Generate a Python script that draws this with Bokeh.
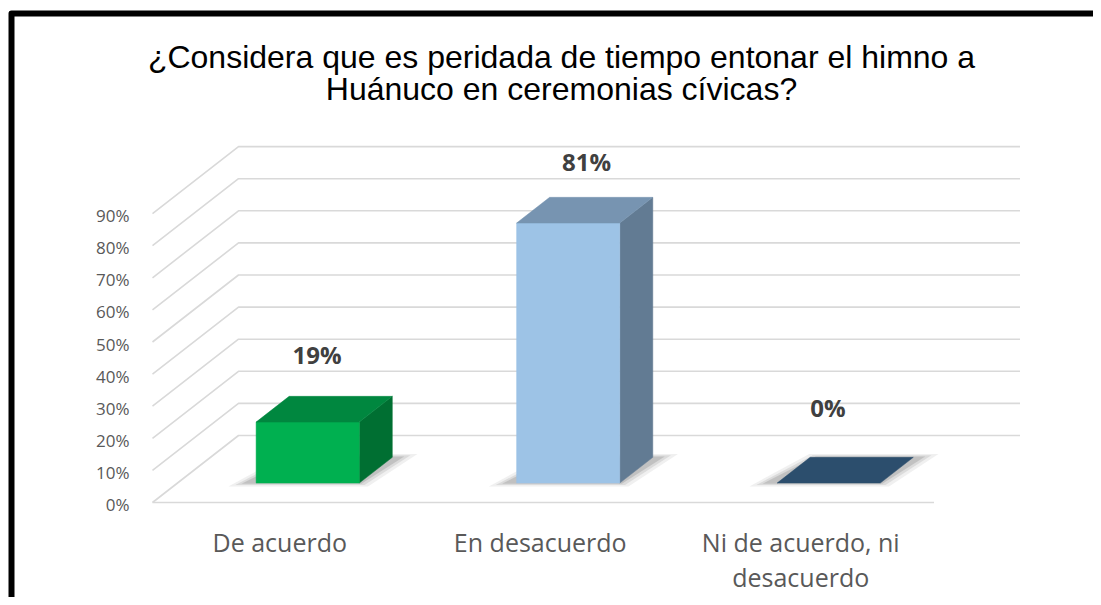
from bokeh.plotting import figure
from bokeh.models import Range1d
from bokeh.core.properties import value
from bokeh.embed import file_html
from bokeh.resources import INLINE

# ---- data ----
title_lines = ["¿Considera que es peridada de tiempo entonar el himno a",
               "Huánuco en ceremonias cívicas?"]
categories = [["De acuerdo"], ["En desacuerdo"], ["Ni de acuerdo, ni", "desacuerdo"]]
values = [19, 81, 0]
value_labels = ["19%", "81%", "0%"]
ticks = [0, 10, 20, 30, 40, 50, 60, 70, 80, 90]
tick_labels = ["0%", "10%", "20%", "30%", "40%", "50%", "60%", "70%", "80%", "90%"]

# ---- styles ----
front_colors = ["#00B050", "#9DC3E6", "#2C4E6D"]
top_colors = ["#00873F", "#7794B1", "#2C4E6D"]
side_colors = ["#006F32", "#627B93", "#2C4E6D"]
label_offsets = [(-7, 55), (2, 49), (-17, 63)]

# projection of (category position, depth 0..1, value %) to page coordinates
X0, CW, DX, DY, Y0, VS = 152.0, 260.5, 86.0, 67.0, 502.0, 3.21


def proj(c, d, v):
    return X0 + CW * c + DX * d, -(Y0 - VS * v - DY * d)


W, H = 1093, 597
p = figure(width=W, height=H, x_range=Range1d(0, W), y_range=Range1d(-H, 0),
           output_backend="svg", toolbar_location=None,
           x_axis_location=None, y_axis_location=None, min_border=0)
p.outline_line_color = None
p.grid.visible = False
p.background_fill_color = "white"
p.border_fill_color = "white"

GRID = "#D9D9D9"
ncat = len(categories)
# grid: left wall diagonals + back wall lines
for t in ticks:
    fx, fy = proj(0, 0, t)
    bx, by = proj(0, 1, t)
    ex, ey = proj(ncat, 1, t)
    p.line([fx, bx, ex], [fy, by, ey], line_color=GRID, line_width=1.6)
# floor front edge
fx, fy = proj(0, 0, 0)
ex, ey = proj(ncat, 0, 0)
p.line([fx, ex], [fy, ey], line_color=GRID, line_width=1.6)

# tick labels
tx = [proj(0, 0, t)[0] - 23 for t in ticks]
ty = [proj(0, 0, t)[1] - 2 for t in ticks]
p.text(tx, ty, text=tick_labels, text_align="right", text_baseline="middle",
       text_font=value("Open Sans"), text_font_size="17px", text_color="#595959")

# bars
HW, D0, D1 = 0.198, 0.29, 0.674
for i, v in enumerate(values):
    c = i + 0.5
    xl, xr = c - HW, c + HW
    # soft shadow on the floor (layered)
    for k, a in [(0.05, 0.10), (0.03, 0.16), (0.012, 0.24)]:
        pts = [proj(xl - 0.04 - k, D0 - k, 0), proj(xr + k, D0 - k, 0),
               proj(xr + 0.03 + k, D1 + k, 0), proj(xl + 0.03 - k, D1 + k, 0)]
        p.patch([q[0] for q in pts], [q[1] for q in pts], fill_color="#6F6F6F",
                fill_alpha=a, line_color=None)
    if v > 0:
        side = [proj(xr, D0, 0), proj(xr, D1, 0), proj(xr, D1, v), proj(xr, D0, v)]
        p.patch([q[0] for q in side], [q[1] for q in side], fill_color=side_colors[i],
                line_color=side_colors[i], line_width=0.5)
        front = [proj(xl, D0, 0), proj(xr, D0, 0), proj(xr, D0, v), proj(xl, D0, v)]
        p.patch([q[0] for q in front], [q[1] for q in front], fill_color=front_colors[i],
                line_color=front_colors[i], line_width=0.5)
    top = [proj(xl, D0, v), proj(xr, D0, v), proj(xr, D1, v), proj(xl, D1, v)]
    p.patch([q[0] for q in top], [q[1] for q in top], fill_color=top_colors[i],
            line_color=top_colors[i], line_width=0.5)

# value labels
lx, ly = [], []
for i, v in enumerate(values):
    x, y = proj(i + 0.5, 0.48, v)
    lx.append(x + label_offsets[i][0])
    ly.append(y + label_offsets[i][1])
p.text(lx, ly, text=value_labels, text_align="center", text_baseline="middle",
       text_font=value("Open Sans"), text_font_size="24px", text_font_style="bold",
       text_color="#404040")

# category labels
cx, cy, ct = [], [], []
for i, lines in enumerate(categories):
    x, y = proj(i + 0.5, 0, 0)
    for j, s in enumerate(lines):
        cx.append(x - 3)
        cy.append(y - 39 - 35 * j)
        ct.append(s)
p.text(cx, cy, text=ct, text_align="center", text_baseline="middle",
       text_font=value("Open Sans"), text_font_size="25px", text_color="#595959")

# title
p.text([561, 561], [-56, -88], text=title_lines, text_align="center",
       text_baseline="middle", text_font=value("Liberation Sans"),
       text_font_size="32px", text_color="#000000")

# outer black frame (left and top)
p.line([11, 11, 1100], [-620, -13, -13], line_color="black", line_width=6,
       line_join="round")

open("out.html", "w").write(file_html(p, INLINE))
